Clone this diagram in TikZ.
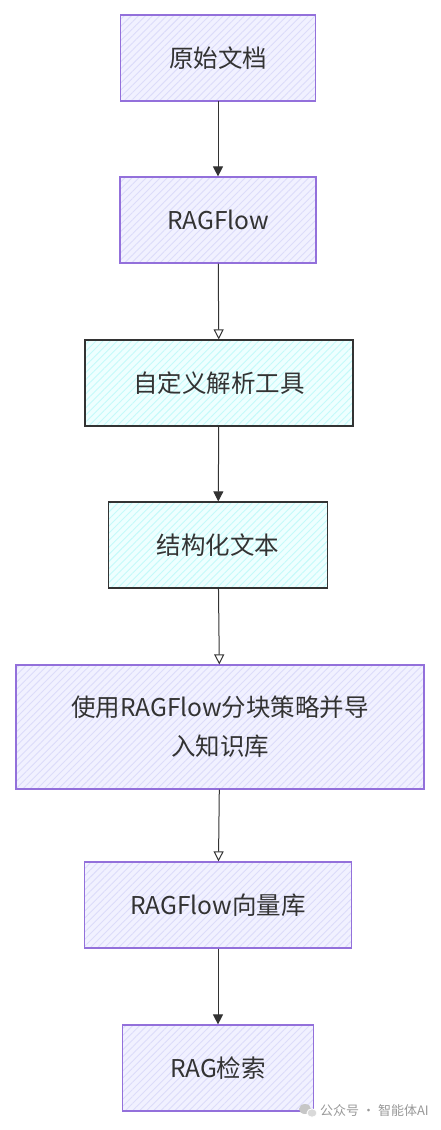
\documentclass[tikz,border=0pt]{standalone}
\usepackage{fontspec}
\setmainfont{Noto Sans CJK SC}
\usetikzlibrary{arrows.meta,patterns.meta}
\definecolor{lilac}{HTML}{F1F1FF}
\definecolor{lilacline}{HTML}{DCDCFA}
\definecolor{lilacborder}{HTML}{9370DB}
\definecolor{aqua}{HTML}{EEFFFF}
\definecolor{aqualine}{HTML}{C4FAFA}
\definecolor{inkgrey}{HTML}{333333}
\begin{document}
\begin{tikzpicture}[x=1pt,y=-1pt]
\tikzset{purplebox/.style={draw=lilacborder, line width=1.2pt, preaction={fill=lilac},
  pattern={Lines[angle=45,distance=5pt,line width=0.9pt]}, pattern color=lilacline,
  minimum height=86pt, text=inkgrey, font=\fontsize{24.5}{39}\selectfont, inner sep=0pt}}
\tikzset{aquabox/.style={purplebox, draw=inkgrey, preaction={fill=aqua}, pattern color=aqualine}}
\tikzset{flow/.style={draw=inkgrey, line width=1pt, -{Triangle[length=10pt,width=10pt]}}}
\tikzset{flowopen/.style={flow, -{Triangle[open,length=10pt,width=10pt]}}}
\useasboundingbox (0,0) rectangle (440,1130);
\node[purplebox, minimum width=195pt] (B1) at (218,58) {原始文档};
\node[purplebox, minimum width=196pt] (B2) at (218,220) {RAGFlow};
\node[aquabox, minimum width=268pt] (B3) at (219,383) {自定义解析工具};
\node[aquabox, minimum width=219pt] (B4) at (218,545) {结构化文本};
\node[purplebox, minimum width=408pt, minimum height=124pt, align=center] (B5) at (220,727) {使用RAGFlow分块策略并导\\入知识库};
\node[purplebox, minimum width=267pt] (B6) at (218,905) {RAGFlow向量库};
\node[purplebox, minimum width=191pt] (B7) at (218,1068) {RAG检索};
\draw[flow] (B1) -- (B2);
\draw[flowopen] (B2) -- (B3);
\draw[flow] (B3) -- (B4);
\draw[flowopen] (B4) -- (B5);
\draw[flowopen] (B5) -- (B6);
\draw[flow] (B6) -- (B7);
\fill[gray!45] (305,1109) ellipse (6pt and 5pt);
\fill[gray!30, draw=white, line width=0.8pt] (312,1113) ellipse (5pt and 4.2pt);
\node[text=gray!80, font=\fontsize{13}{15}\selectfont, anchor=west, inner sep=0pt] (wm) at (320,1111) {公众号 · 智能体AI};
\end{tikzpicture}
\end{document}
